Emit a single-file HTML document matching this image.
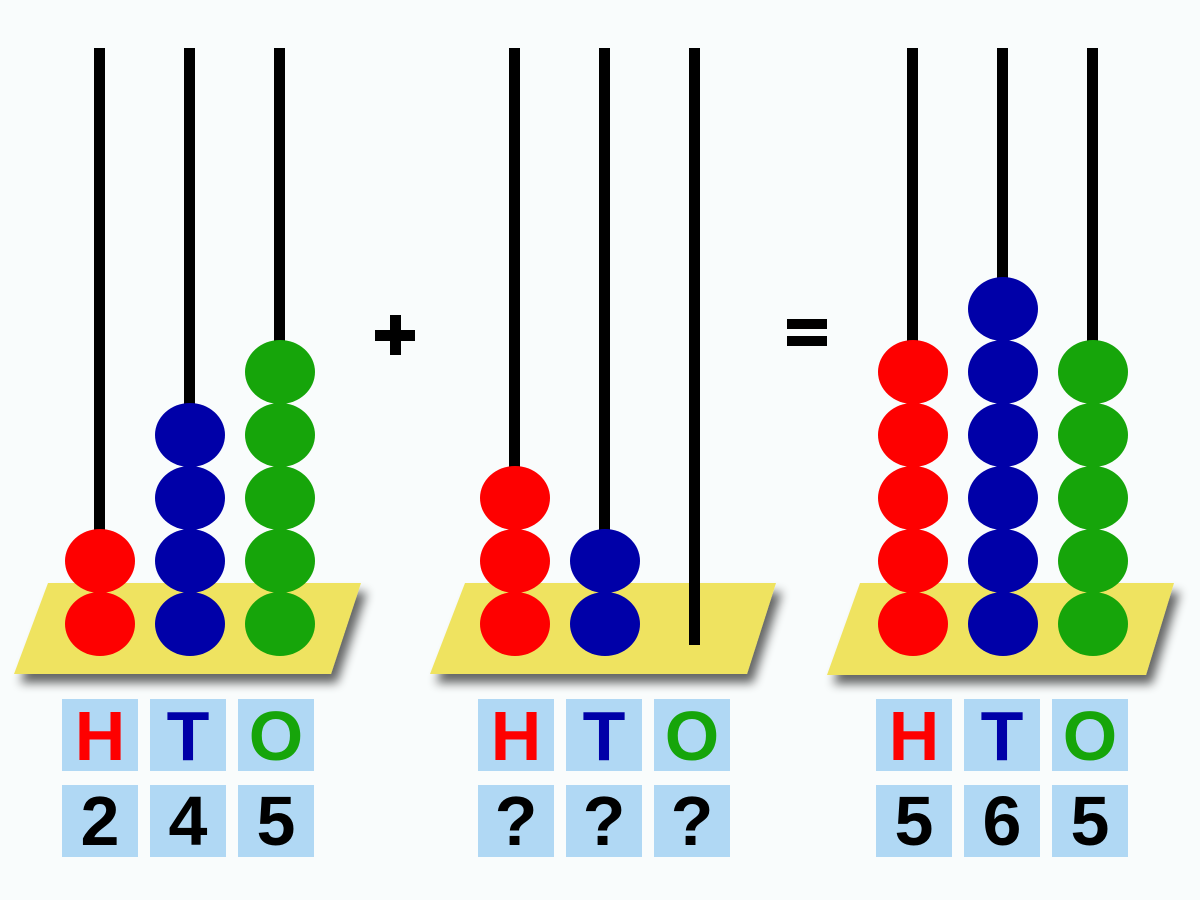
<!DOCTYPE html>
<html><head><meta charset="utf-8"><style>
html,body{margin:0;padding:0;background:#f9fcfc;}
svg{display:block}
text{font-family:"Liberation Sans",sans-serif;font-weight:bold;font-size:70px;text-anchor:middle}
</style></head><body>
<svg width="1200" height="900" viewBox="0 0 1200 900" xmlns="http://www.w3.org/2000/svg">
<defs>
<filter id="sh" x="-10%" y="-30%" width="130%" height="180%">
<feGaussianBlur in="SourceAlpha" stdDeviation="5"/>
<feOffset dx="6" dy="9" result="b"/>
<feComponentTransfer><feFuncA type="linear" slope="0.6"/></feComponentTransfer>
<feMerge><feMergeNode/><feMergeNode in="SourceGraphic"/></feMerge>
</filter>
</defs>
<rect width="1200" height="900" fill="#f9fcfc"/>
<!-- bases -->
<polygon points="48,583 361,583 331,674 14,674" fill="#efe360" filter="url(#sh)"/>
<polygon points="465,583 776,583 747,674 430,674" fill="#efe360" filter="url(#sh)"/>
<polygon points="860,583 1174,583 1146,675 827,675" fill="#efe360" filter="url(#sh)"/>
<!-- rods -->
<g fill="#000">
<rect x="94" y="48" width="11" height="540"/>
<rect x="184" y="48" width="11" height="540"/>
<rect x="274" y="48" width="11" height="540"/>
<rect x="509" y="48" width="11" height="540"/>
<rect x="599" y="48" width="11" height="540"/>
<rect x="689" y="48" width="11" height="597"/>
<rect x="907" y="48" width="11" height="540"/>
<rect x="997" y="48" width="11" height="540"/>
<rect x="1087" y="48" width="11" height="540"/>
</g>
<!-- beads abacus 1 -->
<g fill="#fe0000">
<ellipse cx="100" cy="624" rx="35" ry="32"/><ellipse cx="100" cy="561" rx="35" ry="32"/>
</g>
<g fill="#0000a8">
<ellipse cx="190" cy="624" rx="35" ry="32"/><ellipse cx="190" cy="561" rx="35" ry="32"/>
<ellipse cx="190" cy="498" rx="35" ry="32"/><ellipse cx="190" cy="435" rx="35" ry="32"/>
</g>
<g fill="#16a50a">
<ellipse cx="280" cy="624" rx="35" ry="32"/><ellipse cx="280" cy="561" rx="35" ry="32"/>
<ellipse cx="280" cy="498" rx="35" ry="32"/><ellipse cx="280" cy="435" rx="35" ry="32"/>
<ellipse cx="280" cy="372" rx="35" ry="32"/>
</g>
<!-- abacus 2 -->
<g fill="#fe0000">
<ellipse cx="515" cy="624" rx="35" ry="32"/><ellipse cx="515" cy="561" rx="35" ry="32"/>
<ellipse cx="515" cy="498" rx="35" ry="32"/>
</g>
<g fill="#0000a8">
<ellipse cx="605" cy="624" rx="35" ry="32"/><ellipse cx="605" cy="561" rx="35" ry="32"/>
</g>
<!-- abacus 3 -->
<g fill="#fe0000">
<ellipse cx="913" cy="624" rx="35" ry="32"/><ellipse cx="913" cy="561" rx="35" ry="32"/>
<ellipse cx="913" cy="498" rx="35" ry="32"/><ellipse cx="913" cy="435" rx="35" ry="32"/>
<ellipse cx="913" cy="372" rx="35" ry="32"/>
</g>
<g fill="#0000a8">
<ellipse cx="1003" cy="624" rx="35" ry="32"/><ellipse cx="1003" cy="561" rx="35" ry="32"/>
<ellipse cx="1003" cy="498" rx="35" ry="32"/><ellipse cx="1003" cy="435" rx="35" ry="32"/>
<ellipse cx="1003" cy="372" rx="35" ry="32"/><ellipse cx="1003" cy="309" rx="35" ry="32"/>
</g>
<g fill="#16a50a">
<ellipse cx="1093" cy="624" rx="35" ry="32"/><ellipse cx="1093" cy="561" rx="35" ry="32"/>
<ellipse cx="1093" cy="498" rx="35" ry="32"/><ellipse cx="1093" cy="435" rx="35" ry="32"/>
<ellipse cx="1093" cy="372" rx="35" ry="32"/>
</g>
<!-- plus / equals -->
<rect x="375" y="330" width="40" height="11" fill="#000"/>
<rect x="390" y="315" width="11" height="40" fill="#000"/>
<rect x="787" y="319" width="40" height="10" fill="#000"/>
<rect x="787" y="336" width="40" height="10" fill="#000"/>
<!-- label boxes -->
<g fill="#b0d8f4">
<rect x="62" y="699" width="76" height="72"/><rect x="150" y="699" width="76" height="72"/><rect x="238" y="699" width="76" height="72"/>
<rect x="62" y="785" width="76" height="72"/><rect x="150" y="785" width="76" height="72"/><rect x="238" y="785" width="76" height="72"/>
<rect x="478" y="699" width="76" height="72"/><rect x="566" y="699" width="76" height="72"/><rect x="654" y="699" width="76" height="72"/>
<rect x="478" y="785" width="76" height="72"/><rect x="566" y="785" width="76" height="72"/><rect x="654" y="785" width="76" height="72"/>
<rect x="876" y="699" width="76" height="72"/><rect x="964" y="699" width="76" height="72"/><rect x="1052" y="699" width="76" height="72"/>
<rect x="876" y="785" width="76" height="72"/><rect x="964" y="785" width="76" height="72"/><rect x="1052" y="785" width="76" height="72"/>
</g>
<g>
<text x="100" y="760" fill="#fe0000">H</text><text x="188" y="760" fill="#0000a8">T</text><text x="276" y="760" fill="#16a50a">O</text>
<text x="516" y="760" fill="#fe0000">H</text><text x="604" y="760" fill="#0000a8">T</text><text x="692" y="760" fill="#16a50a">O</text>
<text x="914" y="760" fill="#fe0000">H</text><text x="1002" y="760" fill="#0000a8">T</text><text x="1090" y="760" fill="#16a50a">O</text>
<text x="100" y="845" fill="#000">2</text><text x="188" y="845" fill="#000">4</text><text x="276" y="845" fill="#000">5</text>
<text x="516" y="845" fill="#000">?</text><text x="604" y="845" fill="#000">?</text><text x="692" y="845" fill="#000">?</text>
<text x="914" y="845" fill="#000">5</text><text x="1002" y="845" fill="#000">6</text><text x="1090" y="845" fill="#000">5</text>
</g>
</svg>
</body></html>
